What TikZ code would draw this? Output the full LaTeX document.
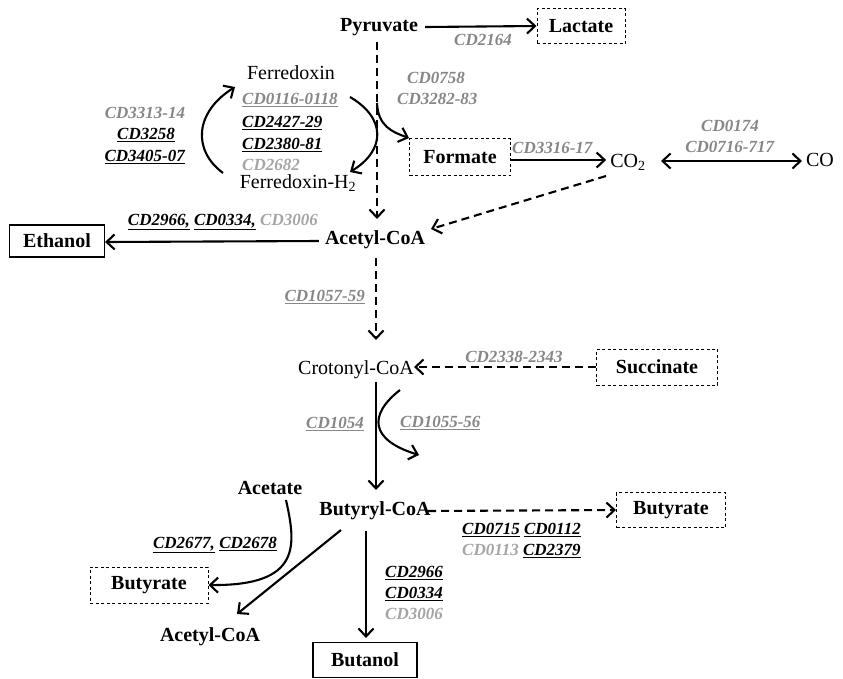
\documentclass[tikz,border=0pt]{standalone}
\usepackage{fontspec}
\setmainfont{Liberation Serif}
\usetikzlibrary{arrows.meta}
\definecolor{cdgray}{RGB}{135,135,135}
\definecolor{cdlight}{RGB}{165,165,165}
\newcommand{\glab}[1]{\textcolor{cdgray}{\textbf{\textit{#1}}}}
\newcommand{\llab}[1]{\textcolor{cdlight}{\textbf{\textit{#1}}}}
\newcommand{\gul}[1]{\textcolor{cdgray}{\underline{\textbf{\textit{#1}}}}}
\newcommand{\bul}[1]{\underline{\textbf{\textit{#1}}}}
\begin{document}
\begin{tikzpicture}[x=1pt,y=-1pt,
  met/.style={inner sep=0pt, font=\fontsize{20}{24}\selectfont},
  bmet/.style={met, font=\fontsize{20}{24}\selectfont\bfseries},
  dbox/.style={draw, dashed, line width=1pt, dash pattern=on 3pt off 2.5pt},
  sbox/.style={draw, line width=1.1pt},
  lab/.style={inner sep=0pt, font=\fontsize{17}{21}\selectfont},
  arr/.style={-{Straight Barb[length=8pt,width=15pt]}, line width=2.1pt},
  darr/.style={arr, dash pattern=on 8pt off 5pt},
  barr/.style={{Straight Barb[length=8pt,width=15pt]}-{Straight Barb[length=8pt,width=15pt]}, line width=2.1pt}]
\useasboundingbox (0,0) rectangle (843,678);

% metabolites
\node[bmet] (pyr) at (379,27) {Pyruvate};
\node[bmet, dbox, minimum width=88pt, minimum height=35pt] (lac) at (581,26) {Lactate};
\node[met] (fd) at (291,73) {Ferredoxin};
\node[met] (fdh) at (298,183) {Ferredoxin-H\textsubscript{2}};
\node[bmet, dbox, minimum width=101pt, minimum height=37pt] (form) at (460,157) {Formate};
\node[met] (co2) at (628,162) {CO\textsubscript{2}};
\node[met] (co) at (820,160) {CO};
\node[bmet] (acoa) at (375,240) {Acetyl-CoA};
\node[bmet, sbox, minimum width=95pt, minimum height=32pt] (eth) at (57,241) {Ethanol};
\node[met] (cro) at (356,370) {Crotonyl-CoA};
\node[bmet, dbox, minimum width=121pt, minimum height=36pt] (suc) at (657,367) {Succinate};
\node[bmet] (bcoa) at (375,511) {Butyryl-CoA};
\node[bmet, dbox, minimum width=109pt, minimum height=35pt] (butr) at (671,510) {Butyrate};
\node[bmet] (acet) at (270,488) {Acetate};
\node[bmet, dbox, minimum width=118pt, minimum height=36pt] (butl) at (149,585) {Butyrate};
\node[bmet] (acoa2) at (210,637) {Acetyl-CoA};
\node[bmet, sbox, minimum width=104pt, minimum height=35pt] (buol) at (365,660) {Butanol};

% labels
\node[lab] (l2164) at (483,40) {\glab{CD2164}};
\node[lab, anchor=west] (l0758) at (407,78) {\glab{CD0758}};
\node[lab, anchor=west] (l3282) at (397,99) {\glab{CD3282-83}};
\node[lab] (l3313) at (145,113) {\glab{CD3313-14}};
\node[lab] (l3258) at (146,135) {\bul{CD3258}};
\node[lab] (l3405) at (145,157) {\bul{CD3405-07}};
\node[lab, anchor=west] (l0116) at (242,100) {\gul{CD0116-0118}};
\node[lab, anchor=west] (l2427) at (242,123) {\bul{CD2427-29}};
\node[lab, anchor=west] (l2380) at (242,145) {\bul{CD2380-81}};
\node[lab, anchor=west] (l2682) at (242,165) {\llab{CD2682}};
\node[lab, anchor=west] (l3316) at (512,148) {\glab{CD3316-17}};
\node[lab] (l0174) at (730,126) {\glab{CD0174}};
\node[lab] (l0716) at (730,147) {\glab{CD0716-717}};
\node[lab, anchor=east] (leth) at (318,222) {\bul{CD2966,} \bul{CD0334,} \llab{CD3006}};
\node[lab, anchor=east] (l1057) at (365,297) {\gul{CD1057-59}};
\node[lab] (l2338) at (514,357) {\glab{CD2338-2343}};
\node[lab, anchor=east] (l1054) at (364,424) {\gul{CD1054}};
\node[lab, anchor=west] (l1055) at (400,423) {\gul{CD1055-56}};
\node[lab, anchor=west] (l0715) at (462,530) {\bul{CD0715} \bul{CD0112}};
\node[lab, anchor=west] (l0113) at (462,551) {\llab{CD0113} \bul{CD2379}};
\node[lab] (l2677) at (215,545) {\bul{CD2677,} \bul{CD2678}};
\node[lab, anchor=west] (l2966) at (385,573) {\bul{CD2966}};
\node[lab, anchor=west] (l0334) at (385,594) {\bul{CD0334}};
\node[lab, anchor=west] (l3006) at (385,614) {\llab{CD3006}};

% helper coordinates
\coordinate (pyrb) at (377,42);
\coordinate (acoat) at (377,219);
\coordinate (br) at (377,103);
\coordinate (lcs) at (223,173);
\coordinate (lce) at (235,87);
\coordinate (rcs) at (350,97);
\coordinate (rce) at (350,172);
\coordinate (crs) at (400,390);
\coordinate (cre) at (419,455);
\coordinate (acs) at (286,500);
\coordinate (coL) at (661,161);
\coordinate (coR) at (802,161);
\coordinate (co2b) at (606,176);
\coordinate (acoar) at (431,229);

% connectors
\draw[arr] (pyr.east) ++(7,0) -- (lac.west);
\draw[darr] (pyrb) -- (acoat);
\draw[arr] (br) .. controls (378,126) and (392,132) .. (form.north west);
\draw[arr] (lcs) .. controls (192,150) and (195,112) .. (lce);
\draw[arr] (rcs) .. controls (386,118) and (386,150) .. (rce);
\draw[arr] (form.east |- 0,160) -- ([xshift=-4pt]co2.west |- 0,160);
\draw[barr] (coL) -- (coR);
\draw[darr] (co2b) -- (acoar);
\draw[arr] (acoa.west) ++(-6,1) -- (eth.east |- 0,242);
\draw[darr] (376,258) -- (376,340);
\draw[darr] (suc.west) -- (cro.east |- suc.west);
\draw[arr] (376,382) -- (376,490);
\draw[arr] (crs) .. controls (368,415) and (370,440) .. (cre);
\draw[darr] (428,511) -- (butr.west);
\draw[arr] (acs) .. controls (296,545) and (302,586) .. (butl.east);
\draw[arr] (341,530) -- (237,614);
\draw[arr] (366,531) -- (366,638);
\end{tikzpicture}
\end{document}
